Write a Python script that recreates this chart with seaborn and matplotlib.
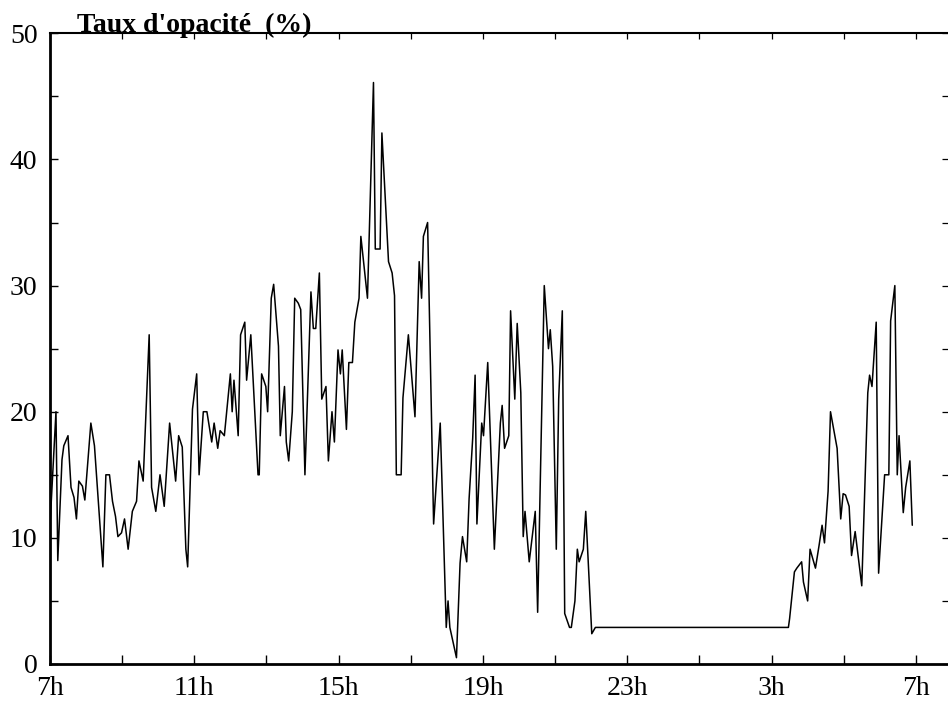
import numpy as np
import pandas as pd
import matplotlib
matplotlib.use("Agg")
import matplotlib.pyplot as plt
import seaborn as sns

# minutes depuis 7h (sur 24 h)
minutes = [0, 10, 13, 20, 23, 30, 35, 40, 44, 48, 54, 58, 68, 74, 88, 93, 99, 104,
           109, 113, 119, 124, 130, 137, 144, 148, 155, 165, 169, 176, 183, 190,
           199, 209, 214, 220, 226, 229, 237, 244, 248, 255, 261, 269, 273, 279,
           283, 290, 300, 303, 306, 313, 317, 324, 327, 334, 346, 348, 352, 359,
           362, 368, 372, 380, 383, 390, 393, 397, 403, 407, 413, 417, 424, 434,
           438, 442, 448, 452, 459, 463, 469, 473, 479, 483, 486, 493, 497, 503,
           507, 514, 517, 528, 538, 541, 549, 552, 563, 569, 573, 576, 584, 587,
           596, 607, 614, 618, 621, 628, 638, 649, 659, 662, 665, 676, 682, 686,
           693, 697, 703, 707, 710, 718, 721, 728, 739, 749, 752, 756, 763, 766,
           773, 777, 783, 787, 790, 797, 807, 811, 822, 829, 832, 836, 842, 846,
           852, 856, 864, 867, 873, 877, 880, 887, 891, 901, 907, 1228, 1230,
           1238, 1242, 1250, 1253, 1260, 1264, 1273, 1279, 1284, 1288, 1294, 1298,
           1309, 1315, 1319, 1323, 1329, 1333, 1339, 1350, 1360, 1363, 1367, 1374,
           1378, 1388, 1395, 1398, 1405, 1409, 1412, 1419, 1423, 1430, 1434]
opacite = [10.9, 20.0, 8.2, 16.2, 17.3, 18.1, 14.0, 13.2, 11.5, 14.5, 14.1, 13.0,
           19.1, 17.3, 7.7, 15.0, 15.0, 12.9, 11.7, 10.1, 10.4, 11.5, 9.1, 12.1,
           12.9, 16.1, 14.5, 26.1, 14.0, 12.1, 15.0, 12.5, 19.1, 14.5, 18.1, 17.2,
           9.1, 7.7, 20.2, 23.0, 15.0, 20.0, 20.0, 17.6, 19.1, 17.1, 18.5, 18.1,
           23.0, 20.0, 22.5, 18.1, 26.1, 27.1, 22.5, 26.1, 15.0, 15.0, 23.0, 22.0,
           20.0, 29.0, 30.1, 25.2, 18.1, 22.0, 17.6, 16.1, 20.0, 29.0, 28.6, 28.1,
           15.0, 29.5, 26.6, 26.6, 31.0, 21.0, 22.0, 16.1, 20.0, 17.6, 24.9, 23.0,
           24.9, 18.6, 23.9, 23.9, 27.1, 29.0, 33.9, 29.0, 46.1, 32.9, 32.9, 42.1,
           31.9, 31.0, 29.2, 15.0, 15.0, 21.1, 26.1, 19.6, 31.9, 29.0, 33.9, 35.0,
           11.1, 19.1, 2.9, 5.0, 2.9, 0.5, 8.0, 10.1, 8.1, 13.1, 17.9, 22.9, 11.1,
           19.1, 18.1, 23.9, 9.1, 19.1, 20.5, 17.1, 18.1, 28.0, 21.0, 27.0, 21.5,
           10.1, 12.1, 8.1, 12.1, 4.1, 30.0, 25.0, 26.5, 23.6, 9.1, 21.0, 28.0,
           4.0, 2.9, 2.9, 5.0, 9.1, 8.1, 9.1, 12.1, 2.4, 2.9, 2.9, 3.6, 7.3, 7.6,
           8.1, 6.5, 5.0, 9.1, 7.6, 9.4, 11.0, 9.6, 13.7, 20.0, 17.1, 11.5, 13.5,
           13.4, 12.5, 8.6, 10.5, 6.2, 21.5, 22.9, 22.0, 27.1, 7.2, 15.0, 15.0,
           27.2, 30.0, 15.0, 18.1, 12.0, 14.0, 16.1, 11.0]

heures_ticks = [7, 11, 15, 19, 23, 27, 31]
heures_labels = ["7h", "11h", "15h", "19h", "23h", "3h", "7h"]

df = pd.DataFrame({"heure": 7 + np.array(minutes) / 60.0, "taux": opacite})

sns.set_style("ticks")
plt.rcParams["font.family"] = ["Liberation Serif", "DejaVu Serif"]
plt.rcParams["text.color"] = "black"
plt.rcParams["axes.edgecolor"] = "black"
plt.rcParams["xtick.color"] = "black"
plt.rcParams["ytick.color"] = "black"

fig = plt.figure(figsize=(9.48, 7.06), dpi=100)
ax = fig.add_axes([0.0527, 0.0595, 0.9473, 0.8933])

sns.lineplot(data=df, x="heure", y="taux", ax=ax, color="black", linewidth=1.1,
             estimator=None, sort=False)

ax.set_xlim(7, 31.89)
ax.set_ylim(0, 50)
ax.set_xlabel("")
ax.set_ylabel("")

ax.set_xticks(heures_ticks)
ax.set_xticklabels(heures_labels)
ax.set_xticks(np.arange(7, 32, 2), minor=True)
ax.set_yticks(np.arange(0, 51, 10))
ax.set_yticks(np.arange(0, 51, 5), minor=True)

ax.tick_params(axis="x", which="both", direction="in", length=6.5, width=1.0,
               labelsize=20, pad=9, top=False, colors="black")
ax.tick_params(axis="y", which="both", direction="in", length=6, width=1.0,
               labelsize=20, pad=9, right=False, colors="black")

ax.spines["left"].set_linewidth(2.0)
ax.spines["bottom"].set_linewidth(2.0)
ax.spines["top"].set_linewidth(1.5)
ax.spines["right"].set_visible(False)

# petites graduations en haut et a droite
sec_x = ax.secondary_xaxis("top")
sec_x.set_xticks(np.arange(7, 32, 2))
sec_x.tick_params(direction="in", length=4, width=0.9, labeltop=False, colors="black")
sec_x.spines["top"].set_visible(False)

sec_y = ax.secondary_yaxis("right")
sec_y.set_yticks(np.arange(0, 51, 5))
sec_y.tick_params(direction="in", length=4, width=0.9, labelright=False, colors="black")
sec_y.spines["right"].set_visible(False)

fig.text(0.0812, 0.9547, "Taux d'opacité  (%)", fontsize=20, fontweight="bold",
         color="black", ha="left", va="baseline")

fig.savefig("out.png", dpi=100)
